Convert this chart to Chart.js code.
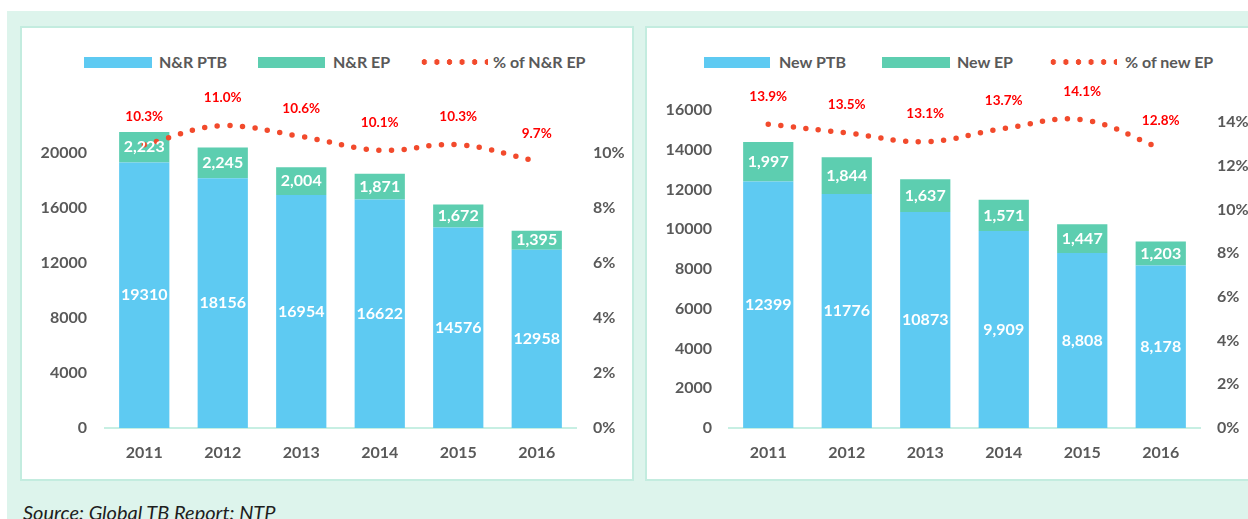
<!DOCTYPE html>
<html>
<head>
<meta charset="utf-8">
<script src="https://cdn.jsdelivr.net/npm/chart.js@4.4.1/dist/chart.umd.min.js"></script>
<style>
  html, body { margin:0; padding:0; background:#fff; }
  body { width:1248px; height:519px; position:relative; overflow:hidden; font-family:Lato, sans-serif; }
  .bg { position:absolute; left:7px; top:11px; right:0; bottom:0; background:#ddf4ec; }
  .panel { position:absolute; top:26px; height:455px; background:#fff; border:2px solid #c3ecdf; box-sizing:border-box; }
  .chart-box { position:absolute; top:29px; height:449px; }
  .lg { position:absolute; top:52px; height:20px; line-height:20px; font-weight:700; font-size:16px; color:#595959; white-space:nowrap; }
  .sw { position:absolute; top:57px; height:11px; }
  .dots { position:absolute; top:59px; height:6px; background:radial-gradient(circle, #f24a2c 2.6px, transparent 3px) 0 0 / 12.6px 6px repeat-x; }
  .source { position:absolute; left:23px; top:500px; font-style:italic; font-size:20px; color:#1e1e1e; white-space:nowrap; }
</style>
</head>
<body>
<div class="bg"></div>
<div class="panel" style="left:20px;width:614px"></div>
<div class="panel" style="left:645px;width:620px"></div>

<!-- legends -->
<div class="sw" style="left:84px;width:68px;background:#5ecaf2"></div>
<div class="lg" style="left:159px">N&amp;R PTB</div>
<div class="sw" style="left:258px;width:67px;background:#5dceb0"></div>
<div class="lg" style="left:333px">N&amp;R EP</div>
<div class="dots" style="left:418px;width:70px"></div>
<div class="lg" style="left:493px">% of N&amp;R EP</div>

<div class="sw" style="left:704px;width:66px;background:#5ecaf2"></div>
<div class="lg" style="left:779px">New PTB</div>
<div class="sw" style="left:882px;width:68px;background:#5dceb0"></div>
<div class="lg" style="left:957px">New EP</div>
<div class="dots" style="left:1047px;width:70px"></div>
<div class="lg" style="left:1125px">% of new EP</div>

<div class="chart-box" style="left:21px;width:611px"><canvas id="c-nr"></canvas></div>
<div class="chart-box" style="left:648px;width:600px"><canvas id="c-new"></canvas></div>

<div class="source">Source: Global TB Report: NTP</div>

<script>
const years = ['2011', '2012', '2013', '2014', '2015', '2016'];

const nrPtb = [19310, 18156, 16954, 16622, 14576, 12958];
const nrEp = [2223, 2245, 2004, 1871, 1672, 1395];
const nrEpPct = [10.3, 11.0, 10.6, 10.1, 10.3, 9.7];

const newPtb = [12399, 11776, 10873, 9909, 8808, 8178];
const newEp = [1997, 1844, 1637, 1571, 1447, 1203];
const newEpPct = [13.9, 13.5, 13.1, 13.7, 14.1, 12.8];

const nrCountTicks = [0, 4000, 8000, 12000, 16000, 20000];
const nrPctTicks = [0, 2, 4, 6, 8, 10];
const newCountTicks = [0, 2000, 4000, 6000, 8000, 10000, 12000, 14000, 16000];
const newPctTicks = [0, 2, 4, 6, 8, 10, 12, 14];

const BLUE = '#5ecaf2', GREEN = '#5dceb0', DOT = '#f24a2c', LABEL_RED = '#ff0000', AXIS = '#595959';
Chart.defaults.font.family = 'Lato, sans-serif';

const plain = v => String(v);
const comma = v => v.toLocaleString('en-US');

// value labels: centred in bar segments, above the line points
const valueLabels = {
  id: 'valueLabels',
  afterDatasetsDraw(chart) {
    const ctx = chart.ctx;
    ctx.save();
    ctx.textAlign = 'center';
    ctx.textBaseline = 'middle';
    chart.data.datasets.forEach((ds, i) => {
      const meta = chart.getDatasetMeta(i);
      meta.data.forEach((el, j) => {
        const v = ds.data[j];
        if (ds.type === 'line') {
          ctx.fillStyle = LABEL_RED;
          ctx.font = 'bold 13.5px Lato, sans-serif';
          ctx.fillText(v.toFixed(1) + '%', el.x, el.y - 28);
        } else {
          ctx.fillStyle = '#ffffff';
          ctx.font = 'bold 16px Lato, sans-serif';
          ctx.fillText(ds.fmt(v), el.x, (el.y + el.base) / 2);
        }
      });
    });
    ctx.restore();
  }
};

function keepTicks(list) {
  return scale => { scale.ticks = list.map(v => ({ value: v })); };
}

function makeChart(id, o) {
  const tickFont = { size: 16, weight: 'bold' };
  new Chart(document.getElementById(id), {
    data: {
      labels: years,
      datasets: [
        { type: 'line', label: o.names[2], data: o.pct, yAxisID: 'y1', order: 0,
          borderColor: DOT, borderWidth: 5.5, borderDash: [0, 12.6], borderCapStyle: 'round',
          pointRadius: 0, tension: 0.4, fill: false, clip: false },
        { type: 'bar', label: o.names[0], data: o.ptb, yAxisID: 'y', stack: 's', order: 1,
          backgroundColor: BLUE, barPercentage: 0.64, categoryPercentage: 1, fmt: o.ptbFmt },
        { type: 'bar', label: o.names[1], data: o.ep, yAxisID: 'y', stack: 's', order: 1,
          backgroundColor: GREEN, barPercentage: 0.64, categoryPercentage: 1, fmt: comma }
      ]
    },
    options: {
      responsive: true, maintainAspectRatio: false, animation: false,
      layout: { padding: { top: o.top, left: 0, right: 0, bottom: 0 } },
      plugins: { legend: { display: false }, tooltip: { enabled: false } },
      scales: {
        x: {
          stacked: true,
          grid: { display: false, drawTicks: false },
          border: { display: true, color: '#c7efe3', width: 2 },
          ticks: { color: AXIS, font: tickFont, padding: 15 },
          afterFit: s => { s.height = 50; }
        },
        y: {
          stacked: true, min: 0, max: o.yMax,
          grid: { display: false, drawTicks: false }, border: { display: false },
          ticks: { color: AXIS, font: tickFont, padding: o.yPad, callback: v => String(v) },
          afterBuildTicks: keepTicks(o.countTicks),
          afterFit: s => { s.width = o.yWidth; }
        },
        y1: {
          position: 'right', min: 0, max: o.y1Max,
          grid: { display: false, drawTicks: false }, border: { display: false },
          ticks: { color: AXIS, font: tickFont, padding: 17, callback: v => v + '%' },
          afterBuildTicks: keepTicks(o.pctTicks),
          afterFit: s => { s.width = o.y1Width; }
        }
      }
    },
    plugins: [valueLabels]
  });
}

makeChart('c-nr', {
  names: ['N&R PTB', 'N&R EP', '% of N&R EP'],
  ptb: nrPtb, ep: nrEp, pct: nrEpPct, ptbFmt: plain,
  yMax: 22000, y1Max: 11, countTicks: nrCountTicks, pctTicks: nrPctTicks,
  top: 96.5, yWidth: 84, yPad: 18, y1Width: 56
});

makeChart('c-new', {
  names: ['New PTB', 'New EP', '% of new EP'],
  ptb: newPtb, ep: newEp, pct: newEpPct, ptbFmt: v => (v >= 10000 ? plain(v) : comma(v)),
  yMax: 16000, y1Max: 14.55, countTicks: newCountTicks, pctTicks: newPctTicks,
  top: 81, yWidth: 81, yPad: 17, y1Width: 48
});
</script>
</body>
</html>
